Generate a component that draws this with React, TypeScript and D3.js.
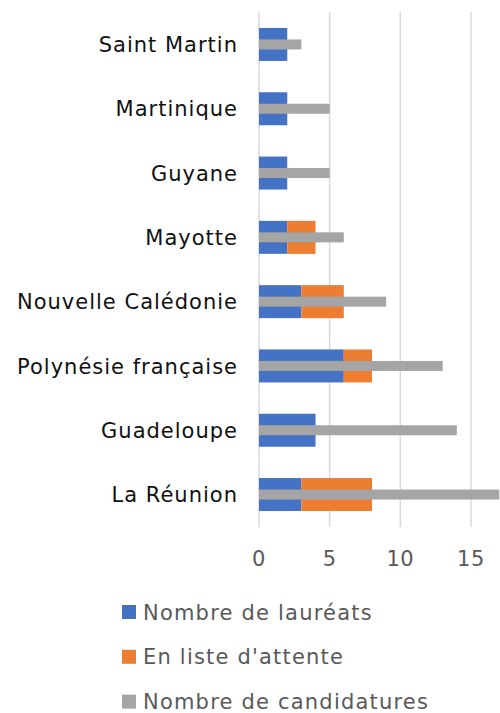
import * as d3 from "d3";

const categories = ["Saint Martin", "Martinique", "Guyane", "Mayotte", "Nouvelle Calédonie", "Polynésie française", "Guadeloupe", "La Réunion"];
const laureats = [2, 2, 2, 2, 3, 6, 4, 3];
const attente = [0, 0, 0, 2, 3, 2, 0, 5];
const candidatures = [3, 5, 5, 6, 9, 13, 14, 17];
const xTicks = [0, 5, 10, 15];
const seriesNames = ["Nombre de lauréats", "En liste d'attente", "Nombre de candidatures"];
const seriesColors = ["#4472C4", "#ED7D31", "#A5A5A5"];

const width = 500;
const height = 713;
const font = "'DejaVu Sans', sans-serif";
const textColor = "#595959";

export default function App() {
    const x = d3.scaleLinear().domain([0, 20]).range([259, 541.6]);
    const y = d3.scaleBand<string>()
        .domain(categories)
        .range([12.3, 526.7])
        .paddingInner(0.487)
        .paddingOuter(0.2435);

    const bw = y.bandwidth();
    const grayH = 10;

    return (
        <svg width={width} height={height} style={{ position: "absolute", left: 0, top: 0, background: "#fff" }}>
            {/* gridlines */}
            {xTicks.map(t => (
                <line key={t} x1={x(t)} x2={x(t)} y1={12} y2={527} stroke="#D9D9D9" strokeWidth={1.5} />
            ))}

            {categories.map((c, i) => {
                const y0 = y(c) as number;
                const cy = y0 + bw / 2;
                return (
                    <g key={c}>
                        <rect x={x(0)} y={y0} width={x(laureats[i]) - x(0)} height={bw} fill={seriesColors[0]} />
                        {attente[i] > 0 && (
                            <rect x={x(laureats[i])} y={y0} width={x(laureats[i] + attente[i]) - x(laureats[i])} height={bw} fill={seriesColors[1]} />
                        )}
                        <rect x={x(0)} y={cy - grayH / 2} width={x(candidatures[i]) - x(0)} height={grayH} fill={seriesColors[2]} />
                        <text x={238} y={cy} dy="0.36em" textAnchor="end" fontFamily={font} fontSize={21} letterSpacing={1} fill="#111">{c}</text>
                    </g>
                );
            })}

            {/* tick labels */}
            {xTicks.map(t => (
                <text key={t} x={x(t)} y={566} textAnchor="middle" fontFamily={font} fontSize={21} letterSpacing={0.5} fill={textColor}>{t}</text>
            ))}

            {/* legend */}
            {seriesNames.map((s, i) => {
                const cy = 612 + i * 44.8;
                return (
                    <g key={s}>
                        <rect x={122} y={cy - 7} width={14} height={14} fill={seriesColors[i]} />
                        <text x={143} y={cy} dy="0.36em" fontFamily={font} fontSize={21} letterSpacing={1.2} fill={textColor}>{s}</text>
                    </g>
                );
            })}
        </svg>
    );
}
